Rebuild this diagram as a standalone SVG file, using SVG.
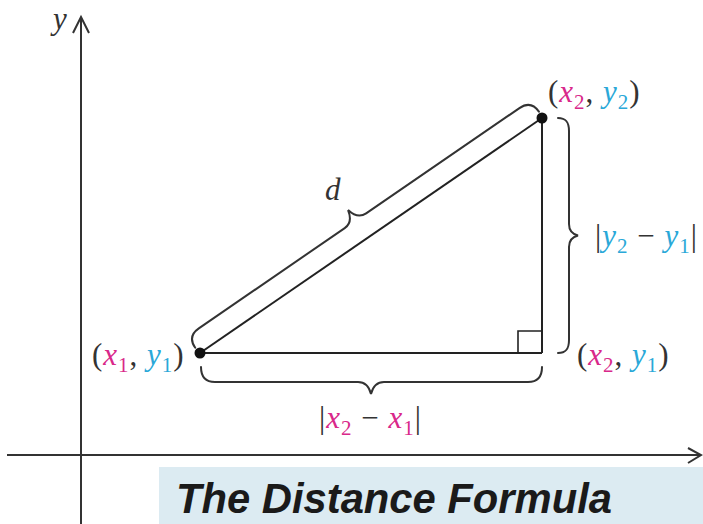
<svg xmlns="http://www.w3.org/2000/svg" width="703" height="524" viewBox="0 0 703 524">
<style>
.ax{stroke:#333;stroke-width:2;fill:none}
.ln{stroke:#222;stroke-width:2;fill:none}
.br{stroke:#333;stroke-width:2;fill:none;stroke-linecap:round}
.lbl{font-family:"Liberation Serif",serif;font-size:31px;fill:#333;letter-spacing:1px}
.it{font-style:italic}
.mx{fill:#d9288a}
.cy{fill:#2aa8d8}
.sub{font-size:21px}
.title{font-family:"Liberation Sans",Arial,sans-serif;font-weight:bold;font-style:italic;font-size:43px;fill:#1a1a1a}
</style>
<rect width="703" height="524" fill="#ffffff"/>
<g id="title-box">
<rect x="159" y="467" width="544" height="57" fill="#dcebf2"/>
<text class="title" x="176" y="513" textLength="436" lengthAdjust="spacingAndGlyphs">The Distance Formula</text>
</g>
<g id="axes">
<line class="ax" x1="81" y1="524" x2="81" y2="17"/>
<polyline class="ax" points="73,33 81,17 89,33"/>
<line class="ax" x1="7" y1="455" x2="701" y2="455"/>
<polyline class="ax" points="688,448 701,455 688,463"/>
<text class="lbl it" x="53" y="29" font-size="28">y</text>
</g>
<g id="connectors">
<line class="ln" x1="200" y1="353" x2="542" y2="118"/>
<line class="ln" x1="200" y1="353" x2="542" y2="353"/>
<line class="ln" x1="542" y1="353" x2="542" y2="118"/>
<polyline points="518,353 518,331 542,331" style="stroke:#222;stroke-width:1.6;fill:none"/>
</g>
<g id="braces">
<path class="br" transform="translate(200,353) rotate(-34.49)" d="M -1,-7 C -1,-16 3,-21 13,-21 L 190,-21 C 197,-21 201,-25 203,-34 C 205,-25 209,-21 216,-21 L 402,-21 C 412,-21 416,-16 416,-7"/>
<path class="br" d="M 558,118 C 566,118 569,122 569,131 L 569,224 C 569,231 572,234 578,235.5 C 572,237 569,240 569,247 L 569,340 C 569,349 566,353 558,353"/>
<path class="br" d="M 201,367 C 201,377 205,382 215,382 L 358,382 C 364,382 369,386 371,394 C 373,386 378,382 384,382 L 528,382 C 538,382 542,377 542,367"/>
</g>
<g id="p1">
<circle cx="200" cy="353" r="5.5" fill="#111"/>
<text class="lbl" x="92" y="365">(<tspan class="it mx">x</tspan><tspan class="mx sub" dy="7">1</tspan><tspan dy="-7">, </tspan><tspan class="it cy">y</tspan><tspan class="cy sub" dy="7">1</tspan><tspan dy="-7">)</tspan></text>
</g>
<g id="p2">
<circle cx="542" cy="118" r="5.5" fill="#111"/>
<text class="lbl" x="548" y="102">(<tspan class="it mx">x</tspan><tspan class="mx sub" dy="7">2</tspan><tspan dy="-7">, </tspan><tspan class="it cy">y</tspan><tspan class="cy sub" dy="7">2</tspan><tspan dy="-7">)</tspan></text>
</g>
<g id="p3">
<text class="lbl" x="577" y="365">(<tspan class="it mx">x</tspan><tspan class="mx sub" dy="7">2</tspan><tspan dy="-7">, </tspan><tspan class="it cy">y</tspan><tspan class="cy sub" dy="7">1</tspan><tspan dy="-7">)</tspan></text>
</g>
<g id="label-d">
<text class="lbl it" x="325" y="200" font-size="28" fill="#222">d</text>
</g>
<g id="label-dy">
<text class="lbl" x="595" y="246">|<tspan class="it cy">y</tspan><tspan class="cy sub" dy="7">2</tspan><tspan dy="-7"> − </tspan><tspan class="it cy">y</tspan><tspan class="cy sub" dy="7">1</tspan><tspan dy="-7">|</tspan></text>
</g>
<g id="label-dx">
<text class="lbl" x="319" y="428">|<tspan class="it mx">x</tspan><tspan class="mx sub" dy="7">2</tspan><tspan dy="-7"> − </tspan><tspan class="it mx">x</tspan><tspan class="mx sub" dy="7">1</tspan><tspan dy="-7">|</tspan></text>
</g>
</svg>
